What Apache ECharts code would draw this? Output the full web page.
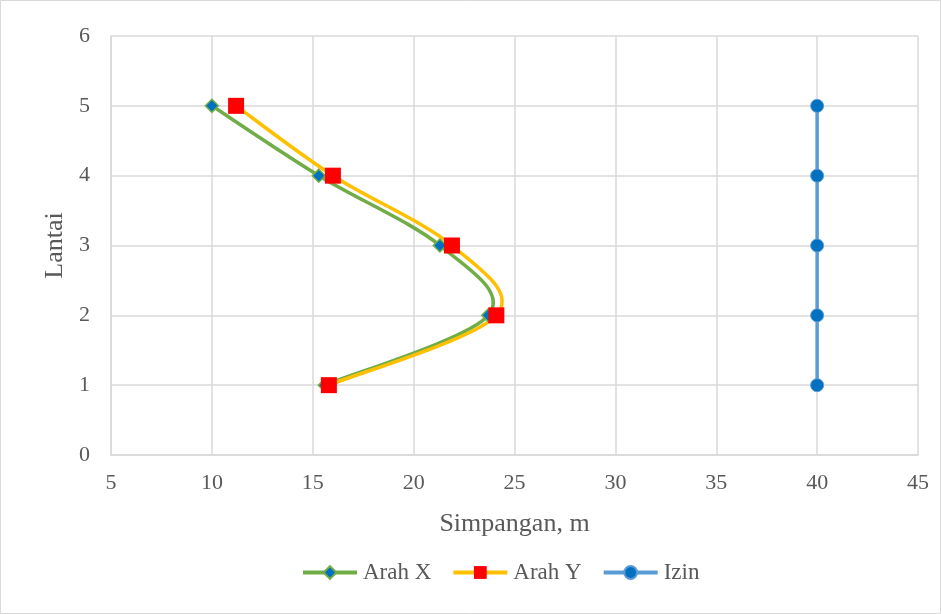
<!DOCTYPE html>
<html>
<head>
<meta charset="utf-8">
<script src="https://cdn.jsdelivr.net/npm/echarts@6/dist/echarts.min.js"></script>
<style>
  html, body { margin: 0; padding: 0; background: #fff; }
  #chart { width: 941px; height: 614px; }
</style>
</head>
<body>
<div id="chart"></div>
<script>
// Floor levels (Lantai) and lateral drift (Simpangan, m)
const floors = [5, 4, 3, 2, 1];
const arahX = [10.0, 15.3, 21.3, 23.7, 15.6];
const arahY = [11.2, 16.0, 21.9, 24.1, 15.8];
const izin = [40, 40, 40, 40, 40];

const seriesNames = ['Arah X', 'Arah Y', 'Izin'];
const xTitle = 'Simpangan, m';
const yTitle = 'Lantai';

const pairs = (xs) => xs.map((x, i) => [x, floors[i]]);
const font = '"Liberation Serif", "Times New Roman", serif';

// Smoothed curve through the points (Catmull-Rom style Bezier segments,
// control points at 1/6 of the neighbour span), projected by the axes.
function curveSeries(xs, color, z) {
  const n = xs.length;
  return {
    type: 'custom',
    silent: true,
    z: z,
    clip: true,
    data: pairs(xs),
    encode: { x: 0, y: 1 },
    renderItem: function (params, api) {
      const i = params.dataIndex;
      if (i >= n - 1) return null;
      const pt = (k) => {
        const j = Math.max(0, Math.min(n - 1, k));
        return api.coord([xs[j], floors[j]]);
      };
      const p0 = pt(i - 1), p1 = pt(i), p2 = pt(i + 1), p3 = pt(i + 2);
      return {
        type: 'bezierCurve',
        shape: {
          x1: p1[0], y1: p1[1],
          x2: p2[0], y2: p2[1],
          cpx1: p1[0] + (p2[0] - p0[0]) / 6,
          cpy1: p1[1] + (p2[1] - p0[1]) / 6,
          cpx2: p2[0] - (p3[0] - p1[0]) / 6,
          cpy2: p2[1] - (p3[1] - p1[1]) / 6
        },
        style: { stroke: color, lineWidth: 3.5, fill: null, lineCap: 'round' }
      };
    }
  };
}

const chart = echarts.init(document.getElementById('chart'));
chart.setOption({
  backgroundColor: '#fff',
  animation: false,
  textStyle: { fontFamily: font },
  graphic: [{
    type: 'rect',
    shape: { x: 0.5, y: 0.5, width: 940, height: 613 },
    style: { fill: 'none', stroke: '#d9d9d9', lineWidth: 1 },
    silent: true
  }],
  grid: { left: 111, right: 23, top: 36, bottom: 159 },
  xAxis: {
    type: 'value', min: 5, max: 45, interval: 5,
    name: xTitle, nameLocation: 'middle', nameGap: 56,
    nameTextStyle: { fontFamily: font, fontSize: 26, color: '#595959' },
    axisLine: { show: true, lineStyle: { color: '#d9d9d9', width: 1.5 } },
    axisTick: { show: false },
    axisLabel: { fontFamily: font, fontSize: 22, color: '#595959', margin: 17 },
    splitLine: { show: true, lineStyle: { color: '#d9d9d9', width: 1.5 } }
  },
  yAxis: {
    type: 'value', min: 0, max: 6, interval: 1,
    name: yTitle, nameLocation: 'middle', nameGap: 40,
    nameTextStyle: { fontFamily: font, fontSize: 26, color: '#595959' },
    axisLine: { show: true, lineStyle: { color: '#d9d9d9', width: 1.5 } },
    axisTick: { show: false },
    axisLabel: { fontFamily: font, fontSize: 22, color: '#595959', margin: 21 },
    splitLine: { show: true, lineStyle: { color: '#d9d9d9', width: 1.5 } }
  },
  legend: {
    top: 556, left: 296,
    itemWidth: 54, itemHeight: 16, itemGap: 20,
    lineStyle: { opacity: 1, width: 4 },
    textStyle: { fontFamily: font, fontSize: 23, color: '#595959', padding: [0, 0, 0, 1] },
    data: seriesNames
  },
  series: [
    curveSeries(arahX, '#70AD47', 1),
    curveSeries(arahY, '#FFC000', 1.5),
    {
      name: seriesNames[0], type: 'line', data: pairs(arahX),
      symbol: 'diamond', symbolSize: 13,
      lineStyle: { color: '#70AD47', width: 3.5, opacity: 0 },
      itemStyle: { color: '#0070C0', borderColor: '#70AD47', borderWidth: 1.5 },
      z: 3
    },
    {
      name: seriesNames[1], type: 'line', data: pairs(arahY),
      symbol: 'rect', symbolSize: 16,
      lineStyle: { color: '#FFC000', width: 3.5, opacity: 0 },
      itemStyle: { color: '#FF0000', borderColor: '#FF0000', borderWidth: 0 },
      z: 4
    },
    {
      name: seriesNames[2], type: 'line', data: pairs(izin),
      symbol: 'circle', symbolSize: 13,
      lineStyle: { color: '#5B9BD5', width: 3.5 },
      itemStyle: { color: '#0070C0', borderColor: '#5B9BD5', borderWidth: 1 },
      z: 2
    }
  ]
});
</script>
</body>
</html>
